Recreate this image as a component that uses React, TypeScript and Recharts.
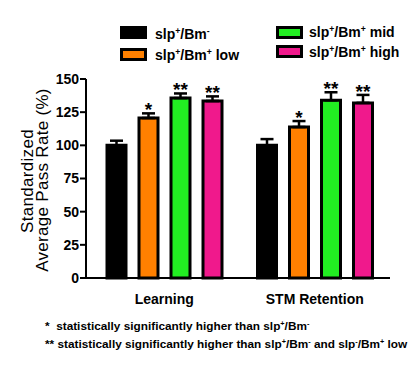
import React from "react";
import { BarChart, Bar, XAxis, YAxis, ErrorBar, LabelList } from "recharts";

const FONT = "Arial, 'Liberation Sans', Helvetica, sans-serif";

// ---- data ----
const categories = ["Learning", "STM Retention"];
const wtMean = [100, 100];
const wtErr = [3.5, 4.7];
const lowMean = [120.6, 113.8];
const lowErr = [3.5, 4.5];
const midMean = [135.6, 134.0];
const midErr = [3.5, 6.0];
const highMean = [133.4, 132.0];
const highErr = [3.5, 6.0];
const lowSig = ["*", "*"];
const midSig = ["**", "**"];
const highSig = ["**", "**"];
const yTicks = [0, 25, 50, 75, 100, 125, 150];

const colors = { wt: "#000000", low: "#FF8000", mid: "#22EE22", high: "#F0198C" };

const rows = categories.map((c, i) => ({
  cat: c,
  wt: wtMean[i],
  wtE: [0, wtErr[i]],
  low: lowMean[i],
  lowE: [0, lowErr[i]],
  lowS: lowSig[i],
  mid: midMean[i],
  midE: [0, midErr[i]],
  midS: midSig[i],
  high: highMean[i],
  highE: [0, highErr[i]],
  highS: highSig[i],
}));

function starLabel(means: number[], errs: number[]) {
  return (props: any) => {
    const vb = props.viewBox || {};
    const x = props.x ?? vb.x;
    const y = props.y ?? vb.y;
    const width = props.width ?? vb.width;
    const height = Math.abs(props.height ?? vb.height);
    const idx = props.index ?? 0;
    const value = props.value;
    if (!value || x == null) return null;
    const pxPerUnit = height / means[idx];
    const errTop = y - errs[idx] * pxPerUnit;
    return (
      <text
        x={x + width / 2}
        y={errTop + 3}
        textAnchor="middle"
        fontFamily={FONT}
        fontSize={19}
        fontWeight="bold"
        fill="#000"
      >
        {value}
      </text>
    );
  };
}

const Sup = ({ children }: { children: React.ReactNode }) => (
  <span style={{ fontSize: "0.62em", position: "relative", top: "-0.55em" }}>{children}</span>
);

const legendItems = [
  { color: colors.wt, s1: "+", s2: "-", tail: "", left: 120, boxTop: 26, textTop: 27, textLeft: 155 },
  { color: colors.low, s1: "+", s2: "+", tail: " low", left: 120, boxTop: 48, textTop: 48, textLeft: 155 },
  { color: colors.mid, s1: "+", s2: "+", tail: " mid", left: 276, boxTop: 26, textTop: 25, textLeft: 309 },
  { color: colors.high, s1: "+", s2: "+", tail: " high", left: 276, boxTop: 45, textTop: 45, textLeft: 309 },
];

const footStyle: React.CSSProperties = {
  position: "absolute",
  left: 45,
  fontSize: 11.8,
  lineHeight: "12px",
  fontWeight: "bold",
  whiteSpace: "pre",
  color: "#000",
};

export default function App() {
  return (
    <div
      style={{
        position: "absolute",
        left: 0,
        top: 0,
        width: 409,
        height: 367,
        background: "#fff",
        fontFamily: FONT,
        overflow: "hidden",
      }}
    >
      <BarChart
        width={409}
        height={367}
        data={rows}
        margin={{ top: 79, right: 19, bottom: 59, left: 0 }}
        barGap={13}
      >
        <XAxis
          dataKey="cat"
          height={30}
          tickLine={false}
          axisLine={{ stroke: "#000", strokeWidth: 2 }}
          tick={{ fontSize: 14, fontWeight: "bold", fill: "#000", fontFamily: FONT }}
          tickMargin={10}
          padding={{ left: 3, right: 0 }}
        />
        <YAxis
          domain={[0, 150]}
          ticks={yTicks}
          interval={0}
          width={86}
          tickSize={6}
          tickMargin={1}
          axisLine={{ stroke: "#000", strokeWidth: 2 }}
          tickLine={{ stroke: "#000", strokeWidth: 2 }}
          tick={{ fontSize: 14, fontWeight: "bold", fill: "#000", fontFamily: FONT }}
        />
        <Bar dataKey="wt" fill={colors.wt} stroke="#000" strokeWidth={3} barSize={19} isAnimationActive={false}>
          <ErrorBar dataKey="wtE" width={6.5} strokeWidth={2.5} stroke="#000" direction="y" isAnimationActive={false} />
        </Bar>
        <Bar dataKey="low" fill={colors.low} stroke="#000" strokeWidth={3} barSize={19} isAnimationActive={false}>
          <ErrorBar dataKey="lowE" width={6.5} strokeWidth={2.5} stroke="#000" direction="y" isAnimationActive={false} />
          <LabelList dataKey="lowS" content={starLabel(lowMean, lowErr)} />
        </Bar>
        <Bar dataKey="mid" fill={colors.mid} stroke="#000" strokeWidth={3} barSize={19} isAnimationActive={false}>
          <ErrorBar dataKey="midE" width={6.5} strokeWidth={2.5} stroke="#000" direction="y" isAnimationActive={false} />
          <LabelList dataKey="midS" content={starLabel(midMean, midErr)} />
        </Bar>
        <Bar dataKey="high" fill={colors.high} stroke="#000" strokeWidth={3} barSize={19} isAnimationActive={false}>
          <ErrorBar dataKey="highE" width={6.5} strokeWidth={2.5} stroke="#000" direction="y" isAnimationActive={false} />
          <LabelList dataKey="highS" content={starLabel(highMean, highErr)} />
        </Bar>
      </BarChart>

      <svg
        width={409}
        height={367}
        style={{ position: "absolute", left: 0, top: 0, pointerEvents: "none" }}
      >
        <text
          transform="translate(33,181) rotate(-90)"
          textAnchor="middle"
          fontFamily={FONT}
          fontSize={17}
          letterSpacing={0.3}
          fill="#000"
        >
          Standardized
        </text>
        <text
          transform="translate(48,180) rotate(-90)"
          textAnchor="middle"
          fontFamily={FONT}
          fontSize={17}
          letterSpacing={0.3}
          fill="#000"
        >
          Average Pass Rate (%)
        </text>
      </svg>

      {legendItems.map((it, i) => (
        <React.Fragment key={i}>
          <div
            style={{
              position: "absolute",
              left: it.left,
              top: it.boxTop,
              width: 27,
              height: 13,
              boxSizing: "border-box",
              border: "3px solid #000",
              background: it.color,
            }}
          />
          <div
            style={{
              position: "absolute",
              left: it.textLeft,
              top: it.textTop,
              fontSize: 14,
              lineHeight: "14px",
              fontWeight: "bold",
              whiteSpace: "pre",
              color: "#000",
            }}
          >
            slp<Sup>{it.s1}</Sup>/Bm<Sup>{it.s2}</Sup>
            {it.tail}
          </div>
        </React.Fragment>
      ))}

      <div style={{ ...footStyle, top: 320 }}>
        {"*  statistically significantly higher than slp"}
        <Sup>+</Sup>/Bm<Sup>-</Sup>
      </div>
      <div style={{ ...footStyle, top: 338 }}>
        {"** statistically significantly higher than slp"}
        <Sup>+</Sup>/Bm<Sup>-</Sup>
        {" and slp"}
        <Sup>-</Sup>/Bm<Sup>+</Sup>
        {" low"}
      </div>
    </div>
  );
}
